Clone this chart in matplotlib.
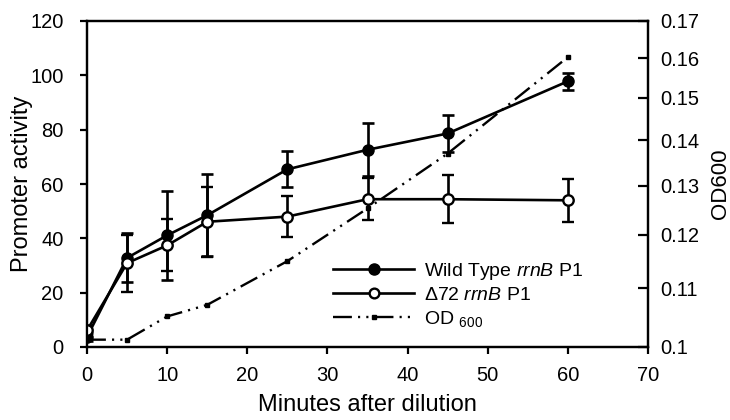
import matplotlib
matplotlib.use("Agg")
import matplotlib.pyplot as plt
from matplotlib.ticker import FixedLocator, FixedFormatter, NullLocator
from matplotlib.lines import Line2D

plt.rcParams['font.family'] = ['Liberation Sans', 'DejaVu Sans']
plt.rcParams['mathtext.fontset'] = 'custom'
plt.rcParams['mathtext.rm'] = 'Liberation Sans'
plt.rcParams['mathtext.it'] = 'Liberation Sans:italic'
plt.rcParams['mathtext.bf'] = 'Liberation Sans:bold'

# Time points (minutes after dilution)
minutes = [0, 5, 10, 15, 25, 35, 45, 60]

# Promoter activity, wild type rrnB P1
wt_activity = [3.7, 32.8, 41.1, 48.5, 65.4, 72.6, 78.6, 97.8]
wt_error = [1.5, 9.0, 16.4, 15.0, 6.6, 9.7, 6.7, 3.2]

# Promoter activity, delta72 rrnB P1
d72_activity = [6.1, 30.9, 37.4, 46.1, 48.0, 54.4, 54.4, 54.0]
d72_error = [1.5, 10.5, 9.6, 12.8, 7.4, 7.8, 8.9, 8.0]

# Culture density
od600 = [0.1012, 0.1012, 0.1051, 0.1071, 0.1150, 0.1253, 0.1370, 0.1603]

left_ticks = [0, 20, 40, 60, 80, 100, 120]
bottom_ticks = [0, 10, 20, 30, 40, 50, 60, 70]
od_ticks = [0.10, 0.11, 0.12, 0.13, 0.14, 0.15, 0.16, 0.17]
od_tick_labels = ["0.1", "0.11", "0.12", "0.13", "0.14", "0.15", "0.16", "0.17"]

fig = plt.figure(figsize=(7.3, 4.2), dpi=100)
ax = fig.add_axes([87 / 730, 1 - 347 / 420, 561 / 730, 326 / 420])
ax2 = ax.twinx()

lw = 1.9
fs = 14.5

ax.errorbar(minutes, wt_activity, yerr=wt_error, color='black', lw=lw,
            marker='o', ms=8, mfc='black', mec='black', capsize=4.5,
            capthick=lw, elinewidth=lw, zorder=3)
ax.errorbar(minutes, d72_activity, yerr=d72_error, color='black', lw=lw,
            marker='o', ms=7.5, mfc='white', mec='black', mew=1.7,
            capsize=4.5, capthick=lw, elinewidth=lw, zorder=4)

od_style = (0, (8, 2.6, 0.9, 2.6, 0.9, 2.6))
ax2.plot(minutes, od600, color='black', lw=1.7, ls=od_style,
         marker='s', ms=3.5, mfc='black', mec='black')

ax.set_xlim(0, 70)
ax.set_ylim(0, 120)
ax.set_xticks(bottom_ticks)
ax.set_yticks(left_ticks)
ax.tick_params(axis='both', direction='out', length=5, width=1.6,
               labelsize=fs)
ax.tick_params(axis='x', pad=9)
ax.tick_params(axis='y', pad=12)
for s in ax.spines.values():
    s.set_linewidth(1.6)

ax2.set_yscale('log')
ax2.set_ylim(0.1, 0.17)
ax2.yaxis.set_major_locator(FixedLocator(od_ticks))
ax2.yaxis.set_major_formatter(FixedFormatter(od_tick_labels))
ax2.yaxis.set_minor_locator(NullLocator())
ax2.tick_params(axis='y', direction='in', length=7.5, width=1.6,
                labelsize=fs, pad=8.5)
for s in ax2.spines.values():
    s.set_linewidth(1.6)

ax.set_xlabel("Minutes after dilution", fontsize=17, labelpad=6)
ax.set_ylabel("Promoter activity", fontsize=17)
ax.yaxis.set_label_coords(-0.096, 0.5)
ax2.set_ylabel("OD600", fontsize=16)
ax2.yaxis.set_label_coords(1.1105, 0.5)

handles = [
    Line2D([], [], color='black', lw=lw, marker='o', ms=8, mfc='black'),
    Line2D([], [], color='black', lw=lw, marker='o', ms=7, mfc='white', mew=1.7),
    Line2D([], [], color='black', lw=1.7, ls=od_style, marker='s', ms=3.5),
]
labels = [r"Wild Type $\it{rrnB}$ P1",
          r"$\Delta$72 $\it{rrnB}$ P1",
          r"OD $_{600}$"]
ax2.legend(handles, labels, loc='upper left', bbox_to_anchor=(0.438, 0.265),
           frameon=False, fontsize=14, handlelength=4.2, handletextpad=0.5,
           labelspacing=0.25, borderpad=0, borderaxespad=0)

fig.savefig("out.png", dpi=100)
